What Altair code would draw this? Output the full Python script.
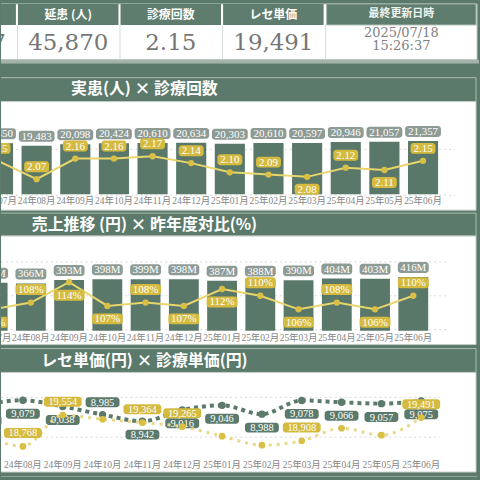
import altair as alt
import pandas as pd

# ---------------- data ----------------
months = ["24年07月", "24年08月", "24年09月", "24年10月", "24年11月", "24年12月",
          "25年01月", "25年02月", "25年03月", "25年04月", "25年05月", "25年06月"]
patients = [20450, 19483, 20098, 20424, 20610, 20634, 20303, 20610, 20597, 20946, 21057, 21357]
visits = [2.15, 2.07, 2.16, 2.16, 2.17, 2.14, 2.10, 2.09, 2.08, 2.12, 2.11, 2.15]
sales_m = [372, 366, 393, 398, 399, 398, 387, 388, 390, 404, 403, 416]
yoy_pct = [106, 108, 114, 107, 108, 107, 112, 110, 106, 108, 106, 110]
rece_price = [19080, 18768, 19554, 19450, 19364, 19265, 19025, 18800, 18908, 19225, 19050, 19491]
visit_price = [9050, 9079, 9038, 8985, 8942, 9016, 9046, 8988, 9078, 9066, 9057, 9075]

kpi_heads = ["実患 (人)", "延患 (人)", "診療回数", "レセ単価"]
kpi_values = ["21,357", "45,870", "2.15", "19,491"]
update_head = ["最終更新日時"]
update_date = ["2025/07/18"]
update_time = ["15:26:37"]

titles = ["実患(人) × 診療回数", "売上推移 (円) × 昨年度対比(%)", "レセ単価(円) × 診療単価(円)"]

# label placement choices
cnt_below = ["25年03月", "25年05月"]
yoy_below = ["24年07月", "24年09月", "24年10月", "24年12月", "25年01月", "25年03月", "25年05月"]
rece_labeled = ["24年07月", "24年08月", "24年09月", "24年11月", "24年12月", "25年03月", "25年06月"]
price_above = ["24年10月"]

# ---------------- style ----------------
BG = "#5b7a6b"
HEAD = "#5e7d6e"
BAR = "#5a786a"
CHIP_GRAY = "#8e9b95"
YLINE = "#e8d56c"
YPT = "#d9c045"
YCHIP = "#d4ba3e"
YDOT = "#e8d888"
GDOT = "#5b7a6b"
BORDER = "#c3ccc7"
SERIF = "DejaVu Serif"
CHIPF = "Liberation Serif"
JP = "Noto Sans CJK JP"
XF = "Liberation Serif, Noto Sans CJK JP"
XC = "#858585"
AXF = "Liberation Serif"
AXC = "#8a8a8a"


def one(**kw):
    return pd.DataFrame({k: [v] for k, v in kw.items()})


def rect(x, x2, y, y2, fill, stroke=""):
    kw = dict(fill=fill, clip=True)
    if stroke:
        kw.update(stroke=stroke, strokeWidth=1)
    return alt.Chart(one(a=0)).mark_rect(**kw).encode(
        x=alt.value(x), x2=alt.value(x2), y=alt.value(y), y2=alt.value(y2))


def rule(x, x2, y, y2, color):
    return alt.Chart(one(a=0)).mark_rule(color=color, strokeWidth=1).encode(
        x=alt.value(x), x2=alt.value(x2), y=alt.value(y), y2=alt.value(y2))


def title_text(t, y):
    return alt.Chart(one(t=t)).mark_text(
        font=JP, fontSize=16, fontWeight="bold", color="white",
        align="center", baseline="middle").encode(
        x=alt.value(144), y=alt.value(y), text="t:N")


def chips(data, X, Y, field, color, width, off, fmt_field, text_size=11, h=11):
    """rounded label chip + text, centered `off` px from the value."""
    c = alt.Chart(data)
    box = c.mark_bar(color=color, width=width, cornerRadius=3,
                     yOffset=off - h / 2, y2Offset=off + h / 2, clip=True).encode(
        x=X, y=Y, y2=alt.Y2(f"{field}:Q"))
    txt = c.mark_text(font=CHIPF, fontSize=text_size, color="white",
                      baseline="middle", dy=off + 0.5, clip=True).encode(
        x=X, y=Y, text=f"{fmt_field}:N")
    return [box, txt]


# ---------------- KPI strip ----------------
dfk = pd.DataFrame({"head": kpi_heads, "val": kpi_values})
XK = alt.X("head:N", axis=None,
           scale=alt.Scale(domain=kpi_heads, range=[-87, 325], paddingInner=0.02, paddingOuter=0.01))
ck = alt.Chart(dfk)
kpi = alt.layer(
    rect(-2, 478, 2, 58, "white", BORDER),
    ck.mark_rect(color=HEAD, clip=True).encode(x=XK, y=alt.value(2), y2=alt.value(23)),
    rect(327, 477, 2, 23, HEAD, "#9fb2a8"),
    rule(16.5, 16.5, 23, 58, "#d6dcd9"),
    rule(119.5, 119.5, 23, 58, "#d6dcd9"),
    rule(222.5, 222.5, 23, 58, "#d6dcd9"),
    rule(326, 326, 23, 58, "#d6dcd9"),
    rect(-2, 480, 58, 62, "#a3b2aa"),
    ck.mark_text(font=JP, fontSize=12, fontWeight="bold", color="white",
                 baseline="middle", clip=True).encode(x=XK, y=alt.value(13), text="head:N"),
    ck.mark_text(font=SERIF, fontSize=23, color="#767676",
                 baseline="alphabetic", clip=True).encode(x=XK, y=alt.value(48.5), text="val:N"),
    alt.Chart(one(t=update_head[0])).mark_text(font=JP, fontSize=11, fontWeight="bold",
                                               color="#eef2ef", baseline="middle").encode(
        x=alt.value(402), y=alt.value(12.5), text="t:N"),
    alt.Chart(one(t=update_date[0])).mark_text(font=SERIF, fontSize=13, color="#808080",
                                               baseline="alphabetic").encode(
        x=alt.value(402), y=alt.value(35), text="t:N"),
    alt.Chart(one(t=update_time[0])).mark_text(font=SERIF, fontSize=13, color="#808080",
                                               baseline="alphabetic").encode(
        x=alt.value(402), y=alt.value(48.5), text="t:N"),
).properties(width=480, height=62)

# ---------------- panel 1 ----------------
df1 = pd.DataFrame({"month": months, "pat": patients, "cnt": visits})
df1["pat_lbl"] = df1["pat"].map(lambda v: f"{v:,}")
df1["cnt_lbl"] = df1["cnt"].map(lambda v: f"{v:.2f}")
df1["below"] = df1["month"].isin(cnt_below)
X1 = alt.X("month:N", axis=None,
           scale=alt.Scale(domain=months, range=[-22.4, 443.2], paddingInner=0.22, paddingOuter=0.11))
YB1 = alt.Y("pat:Q", axis=None, scale=alt.Scale(domain=[0, 22000], range=[131, 76]))
YL1 = alt.Y("cnt:Q", scale=alt.Scale(domain=[2.0, 2.2], range=[132, 86]),
            axis=alt.Axis(orient="right", values=[2.0, 2.2], format=".1f", offset=-18,
                          ticks=False, domain=False, grid=False, labelPadding=0,
                          labelFont=AXF, labelFontSize=9, labelColor=AXC, title=None))
c1 = alt.Chart(df1)
grid1 = alt.Chart(pd.DataFrame({"g": [2.0, 2.2]})).mark_rule(
    color="#d8d8d8", strokeDash=[2, 3]).encode(
    y=alt.Y("g:Q", axis=None, scale=alt.Scale(domain=[2.0, 2.2], range=[132, 86])),
    x=alt.value(0), x2=alt.value(456))
bars1 = alt.layer(
    c1.mark_bar(color=BAR, clip=True).encode(x=X1, y=YB1),
    *chips(df1, X1, YB1, "pat", CHIP_GRAY, 36, -9.5, "pat_lbl"),
)
up1 = df1[~df1["below"]]
dn1 = df1[df1["below"]]
line1 = alt.layer(
    c1.mark_line(color=YLINE, strokeWidth=2, clip=True).encode(x=X1, y=YL1),
    c1.mark_point(filled=True, size=40, color=YPT, opacity=1, clip=True).encode(x=X1, y=YL1),
    *chips(up1, X1, YL1, "cnt", YCHIP, 25, -12.5, "cnt_lbl"),
    *chips(dn1, X1, YL1, "cnt", YCHIP, 25, 12.5, "cnt_lbl"),
)
xlab1 = c1.mark_text(font=XF, fontSize=9.5, color=XC, baseline="middle", clip=True).encode(
    x=X1, y=alt.value(137.5), text="month:N")
p1 = alt.layer(
    rect(-2, 477, 14, 38, BG, "#a9bab1"),
    title_text(titles[0], 25.5),
    rect(-2, 477, 38, 147, "white", BORDER),
    grid1, bars1, line1, xlab1,
).resolve_scale(y="independent").properties(width=480, height=148)

# ---------------- panel 2 ----------------
df2 = pd.DataFrame({"month": months, "sales": sales_m, "yoy": yoy_pct})
df2["sales_lbl"] = df2["sales"].map(lambda v: f"{v}M")
df2["yoy_lbl"] = df2["yoy"].map(lambda v: f"{v}%")
df2["below"] = df2["month"].isin(yoy_below)
X2 = alt.X("month:N", axis=None,
           scale=alt.Scale(domain=months, range=[-27.6, 433.2], paddingInner=0.22, paddingOuter=0.11))
YB2 = alt.Y("sales:Q", axis=None, scale=alt.Scale(domain=[0, 440], range=[120, 63]))
YL2 = alt.Y("yoy:Q", scale=alt.Scale(domain=[100, 120], range=[119, 51]),
            axis=alt.Axis(orient="right", values=[100, 110, 120], labelExpr="datum.value + '%'",
                          offset=-28, ticks=False, domain=False, grid=False, labelPadding=0,
                          labelFont=AXF, labelFontSize=9, labelColor=AXC, title=None))
c2 = alt.Chart(df2)
grid2 = alt.Chart(pd.DataFrame({"g": [100, 110, 120]})).mark_rule(
    color="#d8d8d8", strokeDash=[2, 3]).encode(
    y=alt.Y("g:Q", axis=None, scale=alt.Scale(domain=[100, 120], range=[119, 51])),
    x=alt.value(0), x2=alt.value(447))
bars2 = alt.layer(
    c2.mark_bar(color=BAR, clip=True).encode(x=X2, y=YB2),
    *chips(df2, X2, YB2, "sales", CHIP_GRAY, 31, -9.5, "sales_lbl"),
)
up2 = df2[~df2["below"]]
dn2 = df2[df2["below"]]
line2 = alt.layer(
    c2.mark_line(color=YLINE, strokeWidth=2, clip=True).encode(x=X2, y=YL2),
    c2.mark_point(filled=True, size=40, color=YPT, opacity=1, clip=True).encode(x=X2, y=YL2),
    *chips(up2, X2, YL2, "yoy", YCHIP, 31, -13, "yoy_lbl"),
    *chips(dn2, X2, YL2, "yoy", YCHIP, 31, 13, "yoy_lbl"),
)
xlab2 = c2.mark_text(font=XF, fontSize=9.5, color=XC, baseline="middle", clip=True).encode(
    x=X2, y=alt.value(127.5), text="month:N")
p2 = alt.layer(
    rect(-2, 477, 2, 25, BG, "#a9bab1"),
    title_text(titles[1], 13.5),
    rect(-2, 477, 25, 134, "white", BORDER),
    grid2, bars2, line2, xlab2,
).resolve_scale(y="independent").properties(width=480, height=136)

# ---------------- panel 3 ----------------
df3 = pd.DataFrame({"month": months, "rece": rece_price, "price": visit_price})
df3["rece_lbl"] = df3["rece"].map(lambda v: f"{v:,}")
df3["price_lbl"] = df3["price"].map(lambda v: f"{v:,}")
X3 = alt.X("month:N", axis=None,
           scale=alt.Scale(domain=months, range=[-38, 442], paddingInner=0.2, paddingOuter=0.1))
YR = alt.Y("rece:Q", scale=alt.Scale(domain=[18500, 20500], range=[111, 31]),
           axis=alt.Axis(orient="right", values=[19000, 20000], format=",", offset=-35,
                         ticks=False, domain=False, grid=False, labelPadding=0,
                         labelFont=AXF, labelFontSize=9, labelColor=AXC, title=None))
YP = alt.Y("price:Q", axis=None, scale=alt.Scale(domain=[8750, 9250], range=[104.3, 27.8]))
c3 = alt.Chart(df3)
grid3 = alt.Chart(pd.DataFrame({"g": [19000, 20000]})).mark_rule(
    color="#d8d8d8", strokeDash=[2, 3]).encode(
    y=alt.Y("g:Q", axis=None, scale=alt.Scale(domain=[18500, 20500], range=[111, 31])),
    x=alt.value(0), x2=alt.value(441))
lab_r = df3[df3["month"].isin(rece_labeled)]
p_up = df3[df3["month"].isin(price_above)]
p_dn = df3[~df3["month"].isin(price_above)]
green3 = alt.layer(
    c3.mark_line(color=GDOT, strokeWidth=4, strokeDash=[4, 4], interpolate="monotone",
                 clip=True).encode(x=X3, y=YP),
    c3.mark_point(filled=True, size=55, color=GDOT, opacity=1, clip=True).encode(x=X3, y=YP),
    *chips(p_dn, X3, YP, "price", GDOT, 34, 13.5, "price_lbl", 10.5, 10),
    *chips(p_up, X3, YP, "price", GDOT, 34, -12.5, "price_lbl", 10.5, 10),
)
yellow3 = alt.layer(
    c3.mark_line(color=YDOT, strokeWidth=3, strokeDash=[3, 5], interpolate="monotone",
                 clip=True).encode(x=X3, y=YR),
    c3.mark_point(filled=True, size=45, color=YPT, opacity=1, clip=True).encode(x=X3, y=YR),
    *chips(lab_r, X3, YR, "rece", YCHIP, 38, -13.5, "rece_lbl", 10.5, 10),
)
xlab3 = c3.mark_text(font=XF, fontSize=9.5, color=XC, baseline="middle", clip=True).encode(
    x=X3, y=alt.value(118.5), text="month:N")
p3 = alt.layer(
    rect(-2, 477, 2, 26, BG, "#a9bab1"),
    title_text(titles[2], 14.5),
    rect(-2, 477, 26, 126, "white", BORDER),
    rect(-2, 478, 130, 131, "#8fa399"),
    grid3, green3, yellow3, xlab3,
).resolve_scale(y="independent").properties(width=480, height=134)

chart = alt.vconcat(kpi, p1, p2, p3, spacing=0, bounds="flush").properties(
    padding=0, background=BG
).configure_view(stroke="transparent")

chart.save("out.html", embed_options={"renderer": "svg", "actions": False})
